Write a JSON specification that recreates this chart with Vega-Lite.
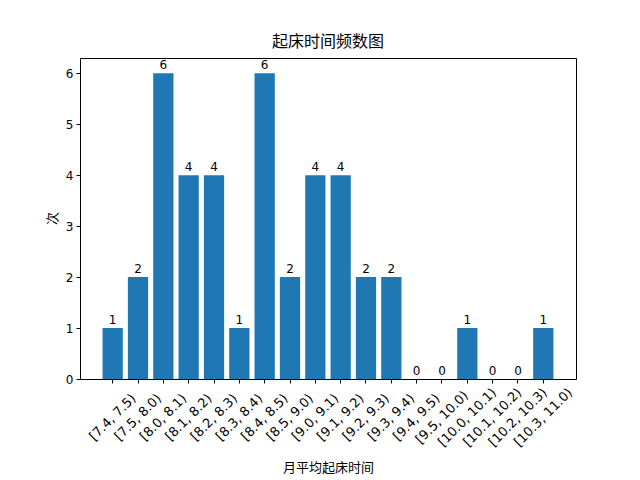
{
  "$schema": "https://vega.github.io/schema/vega-lite/v6.json",
  "width": 496,
  "height": 321,
  "autosize": {"type": "none"},
  "padding": {"left": 80, "top": 58, "right": 64, "bottom": 101},
  "background": "white",
  "title": {"text": "起床时间频数图", "font": "Noto Sans CJK SC", "fontSize": 16, "fontWeight": "normal", "color": "black", "offset": 8},
  "config": {
    "view": {"stroke": "black", "strokeWidth": 1},
    "axis": {"grid": false, "domain": false, "tickColor": "black", "labelColor": "black", "titleColor": "black", "tickSize": 4, "labelFont": "DejaVu Sans", "labelFontSize": 12, "titleFont": "Noto Sans CJK SC", "titleFontSize": 13, "titleFontWeight": "normal"}
  },
  "data": {"values": [
    {"bin": "[7.4, 7.5)", "count": 1},
    {"bin": "[7.5, 8.0)", "count": 2},
    {"bin": "[8.0, 8.1)", "count": 6},
    {"bin": "[8.1, 8.2)", "count": 4},
    {"bin": "[8.2, 8.3)", "count": 4},
    {"bin": "[8.3, 8.4)", "count": 1},
    {"bin": "[8.4, 8.5)", "count": 6},
    {"bin": "[8.5, 9.0)", "count": 2},
    {"bin": "[9.0, 9.1)", "count": 4},
    {"bin": "[9.1, 9.2)", "count": 4},
    {"bin": "[9.2, 9.3)", "count": 2},
    {"bin": "[9.3, 9.4)", "count": 2},
    {"bin": "[9.4, 9.5)", "count": 0},
    {"bin": "[9.5, 10.0)", "count": 0},
    {"bin": "[10.0, 10.1)", "count": 1},
    {"bin": "[10.1, 10.2)", "count": 0},
    {"bin": "[10.2, 10.3)", "count": 0},
    {"bin": "[10.3, 11.0)", "count": 1}
  ]},
  "encoding": {
    "x": {"field": "bin", "type": "nominal", "sort": null,
      "scale": {"paddingInner": 0.2, "paddingOuter": 0.89},
      "axis": {"title": "月平均起床时间", "labelAngle": -45, "labelAlign": "center", "labelBaseline": "middle", "labelPadding": 34, "labelFontSize": 13, "titleY": 88, "titleBaseline": "middle", "labelOverlap": false}},
    "y": {"field": "count", "type": "quantitative",
      "scale": {"domain": [0, 6.3], "nice": false, "zero": true},
      "axis": {"title": "次", "values": [0, 1, 2, 3, 4, 5, 6], "titleX": -28, "titleY": 160, "titleBaseline": "middle", "labelPadding": 3}}
  },
  "layer": [
    {"mark": {"type": "bar", "color": "#1f77b4"}},
    {"mark": {"type": "text", "baseline": "bottom", "dy": -1, "font": "DejaVu Sans", "fontSize": 12, "color": "black"},
     "encoding": {"text": {"field": "count", "type": "quantitative"}}}
  ]
}
